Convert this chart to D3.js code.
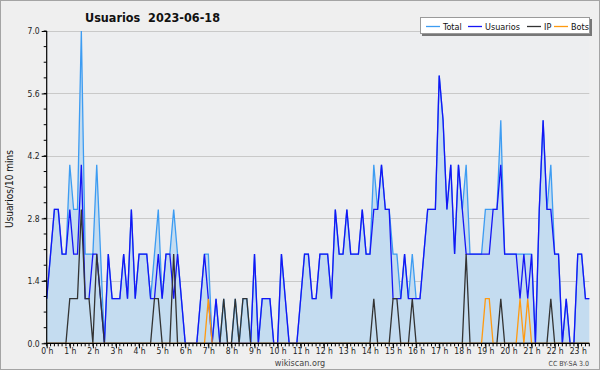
<!DOCTYPE html>
<html>
<head>
<meta charset="utf-8">
<script src="https://cdn.jsdelivr.net/npm/d3@7"></script>
<style>
    html, body { margin: 0; padding: 0; background: #efefef; }
    svg { display: block; }
    text { font-family: "DejaVu Sans Condensed", "DejaVu Sans", sans-serif; }
</style>
</head>
<body>
<svg id="chart" width="600" height="370"></svg>
<script>
// Editors per 10-minute slot, 2023-06-18 (00:00 .. 23:40)
const total = [
    1, 2, 3, 3, 2, 2, 4, 3, 3, 7,
    2, 2, 2, 4, 2, 0, 2, 1, 1, 1,
    2, 1, 3, 1, 2, 2, 2, 1, 2, 3,
    1, 2, 2, 3, 2, 1, 0, 0, 0, 0,
    1, 2, 2, 0, 1, 0, 1, 0, 0, 1,
    0, 1, 1, 0, 2, 0, 1, 1, 1, 0,
    0, 2, 1, 0, 0, 0, 1, 2, 2, 1,
    1, 2, 2, 2, 1, 3, 2, 2, 3, 2,
    2, 2, 3, 2, 2, 4, 3, 4, 3, 3,
    2, 2, 1, 2, 1, 2, 1, 1, 2, 3,
    3, 3, 6, 5, 3, 4, 2, 4, 3, 4,
    2, 2, 2, 2, 3, 3, 3, 3, 5, 2,
    2, 2, 2, 2, 2, 2, 2, 0, 3, 5,
    3, 4, 2, 2, 0, 1, 0, 0, 2, 2,
    1, 1
];
const usuarios = [
    1, 2, 3, 3, 2, 2, 3, 2, 2, 4,
    1, 1, 2, 2, 1, 0, 2, 1, 1, 1,
    2, 1, 3, 1, 2, 2, 2, 1, 1, 2,
    1, 2, 2, 1, 2, 1, 0, 0, 0, 0,
    1, 2, 1, 0, 1, 0, 0, 0, 0, 0,
    0, 0, 0, 0, 2, 0, 1, 1, 1, 0,
    0, 2, 1, 0, 0, 0, 1, 2, 2, 1,
    1, 2, 2, 2, 1, 3, 2, 2, 3, 2,
    2, 2, 3, 2, 2, 3, 3, 4, 3, 3,
    1, 1, 1, 2, 1, 1, 1, 1, 2, 3,
    3, 3, 6, 5, 3, 4, 2, 4, 3, 2,
    2, 2, 2, 2, 2, 2, 3, 3, 4, 2,
    2, 2, 2, 1, 2, 1, 2, 0, 3, 5,
    3, 3, 2, 2, 0, 1, 0, 0, 2, 2,
    1, 1
];
const ip = [
    0, 0, 0, 0, 0, 0, 1, 1, 1, 3,
    1, 1, 0, 2, 1, 0, 0, 0, 0, 0,
    0, 0, 0, 0, 0, 0, 0, 0, 1, 1,
    0, 0, 0, 2, 0, 0, 0, 0, 0, 0,
    0, 0, 0, 0, 0, 0, 1, 0, 0, 1,
    0, 1, 1, 0, 0, 0, 0, 0, 0, 0,
    0, 0, 0, 0, 0, 0, 0, 0, 0, 0,
    0, 0, 0, 0, 0, 0, 0, 0, 0, 0,
    0, 0, 0, 0, 0, 1, 0, 0, 0, 0,
    1, 1, 0, 0, 0, 1, 0, 0, 0, 0,
    0, 0, 0, 0, 0, 0, 0, 0, 0, 2,
    0, 0, 0, 0, 0, 0, 0, 0, 1, 0,
    0, 0, 0, 0, 0, 0, 0, 0, 0, 0,
    0, 1, 0, 0, 0, 0, 0, 0, 0, 0,
    0, 0
];
const bots = [
    0, 0, 0, 0, 0, 0, 0, 0, 0, 0,
    0, 0, 0, 0, 0, 0, 0, 0, 0, 0,
    0, 0, 0, 0, 0, 0, 0, 0, 0, 0,
    0, 0, 0, 0, 0, 0, 0, 0, 0, 0,
    0, 0, 1, 0, 0, 0, 0, 0, 0, 0,
    0, 0, 0, 0, 0, 0, 0, 0, 0, 0,
    0, 0, 0, 0, 0, 0, 0, 0, 0, 0,
    0, 0, 0, 0, 0, 0, 0, 0, 0, 0,
    0, 0, 0, 0, 0, 0, 0, 0, 0, 0,
    0, 0, 0, 0, 0, 0, 0, 0, 0, 0,
    0, 0, 0, 0, 0, 0, 0, 0, 0, 0,
    0, 0, 0, 0, 1, 1, 0, 0, 0, 0,
    0, 0, 0, 1, 0, 1, 0, 0, 0, 0,
    0, 0, 0, 0, 0, 0, 0, 0, 0, 0,
    0, 0
];
const hourLabels = [
    "0 h", "1 h", "2 h", "3 h", "4 h", "5 h", "6 h", "7 h", "8 h", "9 h", "10 h", "11 h",
    "12 h", "13 h", "14 h", "15 h", "16 h", "17 h", "18 h", "19 h", "20 h", "21 h", "22 h", "23 h"
];
const yTicks = [0, 1.4, 2.8, 4.2, 5.6, 7.0];

const series = [
    { name: "Total",    values: total,    color: "#3d9cf2" },
    { name: "Usuarios", values: usuarios, color: "#1515f5" },
    { name: "IP",       values: ip,       color: "#333333" },
    { name: "Bots",     values: bots,     color: "#ff9a10" }
];

const W = 600, H = 370;
const plot = { left: 46.7, right: 589.3, top: 31, bottom: 343.3 };
const slotsPerHour = 6;

const svg = d3.select("#chart");

// outer background + border
svg.append("rect")
    .attr("x", 0.5).attr("y", 0.5)
    .attr("width", W - 1).attr("height", H - 1)
    .attr("fill", "#efefef")
    .attr("stroke", "#a4a4a4");

const x = d3.scaleLinear()
    .domain([0, total.length - 1])
    .range([plot.left, plot.right]);

const y = d3.scaleLinear()
    .domain([0, 7])
    .range([plot.bottom, plot.top]);

// plot background
svg.append("rect")
    .attr("x", plot.left).attr("y", plot.top)
    .attr("width", plot.right - plot.left)
    .attr("height", plot.bottom - plot.top)
    .attr("fill", "#edeef0");

// horizontal grid
svg.append("g")
    .selectAll("line")
    .data(yTicks.slice(1))
    .join("line")
    .attr("x1", plot.left).attr("x2", plot.right)
    .attr("y1", d => Math.round(y(d)) + 0.5)
    .attr("y2", d => Math.round(y(d)) + 0.5)
    .attr("stroke", "#c9c9c9")
    .attr("stroke-width", 1);

// area under Total
const area = d3.area()
    .x((d, i) => x(i))
    .y0(y(0))
    .y1(d => y(d));

svg.append("path")
    .datum(total)
    .attr("d", area)
    .attr("fill", "#c4dcf0");

// lines
const line = d3.line()
    .x((d, i) => x(i))
    .y(d => y(d));

series.forEach(s => {
    svg.append("path")
        .datum(s.values)
        .attr("d", line)
        .attr("fill", "none")
        .attr("stroke", s.color)
        .attr("stroke-width", 1.3)
        .attr("stroke-linejoin", "miter");
});

// y axis
const yAxis = svg.append("g")
    .attr("transform", `translate(${plot.left},0)`)
    .call(d3.axisLeft(y)
        .tickValues(yTicks)
        .tickFormat(d3.format(".1f"))
        .tickSize(5)
        .tickPadding(2));

// minor y ticks every 0.35
yAxis.append("g")
    .selectAll("line")
    .data(d3.range(0, 7.001, 0.35))
    .join("line")
    .attr("x1", -3).attr("x2", 0)
    .attr("y1", d => y(d)).attr("y2", d => y(d))
    .attr("stroke", "#000");

// x axis with hour labels
const hourTicks = hourLabels.map((h, i) => i * slotsPerHour);
const xAxis = svg.append("g")
    .attr("transform", `translate(0,${plot.bottom})`)
    .call(d3.axisBottom(x)
        .tickValues(hourTicks)
        .tickFormat((d, i) => hourLabels[i])
        .tickSize(5)
        .tickPadding(0));

// minor x ticks every slot
xAxis.append("g")
    .selectAll("line")
    .data(d3.range(total.length))
    .join("line")
    .attr("x1", d => x(d)).attr("x2", d => x(d))
    .attr("y1", 0).attr("y2", 3)
    .attr("stroke", "#000");

[yAxis, xAxis].forEach(g => {
    g.select(".domain").attr("stroke", "#000").attr("stroke-width", 1.2);
    g.selectAll("text")
        .attr("font-family", "'DejaVu Sans Condensed', 'DejaVu Sans', sans-serif")
        .attr("font-size", 8.5)
        .attr("fill", "#222");
});
yAxis.select(".domain").attr("d", `M0,${plot.bottom}V${plot.top}`);
xAxis.select(".domain").attr("d", `M${plot.left},0H${plot.right}`);

// y-axis title
svg.append("text")
    .attr("transform", "translate(13,189) rotate(-90)")
    .attr("text-anchor", "middle")
    .attr("font-family", "'DejaVu Sans Mono', monospace")
    .attr("font-size", 10)
    .attr("fill", "#111")
    .text("Usuarios/10 mins");

// title
svg.append("text")
    .attr("x", 85).attr("y", 22)
    .attr("font-size", 12.5)
    .attr("font-weight", "bold")
    .attr("fill", "#111")
    .attr("xml:space", "preserve")
    .text("Usuarios  2023-06-18");

// legend
const lg = svg.append("g").attr("transform", "translate(420,17)");
lg.append("rect")
    .attr("x", 2).attr("y", 2).attr("width", 170).attr("height", 17)
    .attr("fill", "#777");
lg.append("rect")
    .attr("x", 0.5).attr("y", 0.5).attr("width", 169).attr("height", 16)
    .attr("fill", "#fff")
    .attr("stroke", "#9a9a9a");

const legendX = [6, 48, 107, 134];
series.forEach((s, i) => {
    const gx = legendX[i];
    lg.append("line")
        .attr("x1", gx).attr("x2", gx + 14)
        .attr("y1", 9.5).attr("y2", 9.5)
        .attr("stroke", s.color)
        .attr("stroke-width", 1.3);
    lg.append("text")
        .attr("x", gx + 17).attr("y", 12.5)
        .attr("font-size", 9)
        .attr("fill", "#111")
        .text(s.name);
});

// footer
svg.append("text")
    .attr("x", 300).attr("y", 366)
    .attr("text-anchor", "middle")
    .attr("font-size", 9)
    .attr("fill", "#444")
    .text("wikiscan.org");

svg.append("text")
    .attr("x", 589).attr("y", 366)
    .attr("text-anchor", "end")
    .attr("font-size", 7)
    .attr("fill", "#444")
    .text("CC BY-SA 3.0");
</script>
</body>
</html>
